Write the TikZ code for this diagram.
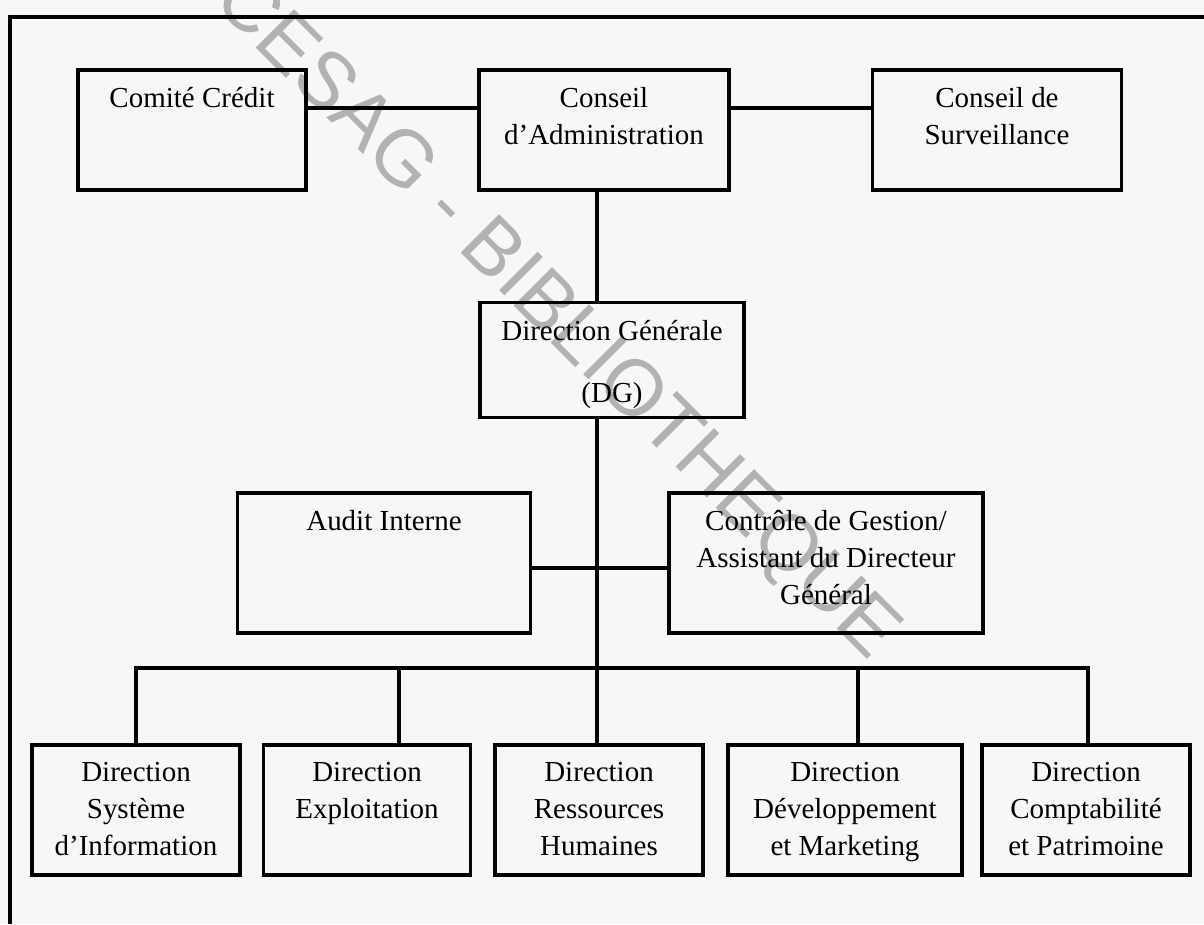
\documentclass[tikz,border=0pt]{standalone}
\usepackage{fontspec}
\setmainfont{Liberation Serif}
\newfontfamily\wmfont{Liberation Sans}
\usepackage{tikz}
\usetikzlibrary{positioning}
\definecolor{paper}{RGB}{245,247,249}
\tikzset{
  box/.style={draw, line width=2.2pt, inner sep=0pt},
  boxtext/.style={align=center, inner sep=0pt, font=\fontsize{16.5}{21}\selectfont},
  link/.style={line width=2pt},
  frame/.style={line width=2.3pt},
  watermark/.style={text=black!30, font=\wmfont\fontsize{45}{45}\selectfont, rotate=-45, inner sep=0pt}
}

\begin{document}
\begin{tikzpicture}[x=0.02cm, y=-0.02cm]
        % Page and frame
        \fill[paper] (0,0) rectangle (1204,924);
        \useasboundingbox (0,0) rectangle (1204,924);

        % Library stamp (behind the chart)
        \node[watermark] (wm) at (555,318) {CESAG - BIBLIOTHEQUE};

        \draw[frame] (1204,17) -- (10,17) -- (10,924);

        % Top row
        \node[box, minimum width=4.56cm, minimum height=2.4cm] (cc) at (192,130) {};
        \node[box, minimum width=5cm, minimum height=2.4cm] (ca) at (604,130) {};
        \node[box, minimum width=4.98cm, minimum height=2.4cm] (cs) at (997,130) {};
        \node[boxtext, below=0.38cm of cc.north] (cc-t) {Comité Crédit};
        \node[boxtext, below=0.38cm of ca.north] (ca-t) {Conseil\\d’Administration};
        \node[boxtext, below=0.38cm of cs.north] (cs-t) {Conseil de\\Surveillance};

        % Direction generale
        \node[box, minimum width=5.28cm, minimum height=2.3cm] (dg) at (612,360) {};
        \node[boxtext, below=0.38cm of dg.north] (dg-t) {Direction Générale\\[0.52cm](DG)};

        % Staff
        \node[box, minimum width=5.86cm, minimum height=2.8cm] (audit) at (384,563) {};
        \node[box, minimum width=6.28cm, minimum height=2.8cm] (ctrl) at (826,563) {};
        \node[boxtext, below=0.38cm of audit.north] (audit-t) {Audit Interne};
        \node[boxtext, below=0.38cm of ctrl.north] (ctrl-t) {Contrôle de Gestion/\\Assistant du Directeur\\Général};

        % Directions
        \foreach \n/\x/\w/\t in {
            d1/136/208/{Direction\\Système\\d’Information},
            d2/367/207/{Direction\\Exploitation},
            d3/599/208/{Direction\\Ressources\\Humaines},
            d4/845/234/{Direction\\Développement\\et Marketing},
            d5/1086/208/{Direction\\Comptabilité\\et Patrimoine}} {
            \node[box, minimum width=\w*0.02cm, minimum height=2.6cm] (\n) at (\x,810) {};
            \node[boxtext, below=0.38cm of \n.north] (\n-t) {\t};
        }

        % Links
        \coordinate (axis) at (597,668);
        \draw[link] ([yshift=0.44cm]cc.east) -- ([yshift=0.44cm]ca.west);
        \draw[link] ([yshift=0.44cm]ca.east) -- ([yshift=0.44cm]cs.west);
        \draw[link] (ca.south -| axis) -- (dg.north -| axis);
        \draw[link] (dg.south -| axis) -- (axis);
        \draw[link] ([yshift=-0.1cm]audit.east) -- ([yshift=-0.1cm]ctrl.west);
        \draw[link] (d1.north) |- (axis) -| ([xshift=0.04cm]d5.north);
        \coordinate (d2-top) at ([xshift=0.64cm]d2.north);
        \coordinate (d4-top) at ([xshift=0.26cm]d4.north);
        \draw[link] (d2-top) -- (d2-top |- axis);
        \draw[link] (axis) -- (axis |- d3.north);
        \draw[link] (d4-top) -- (d4-top |- axis);
\end{tikzpicture}
\end{document}
